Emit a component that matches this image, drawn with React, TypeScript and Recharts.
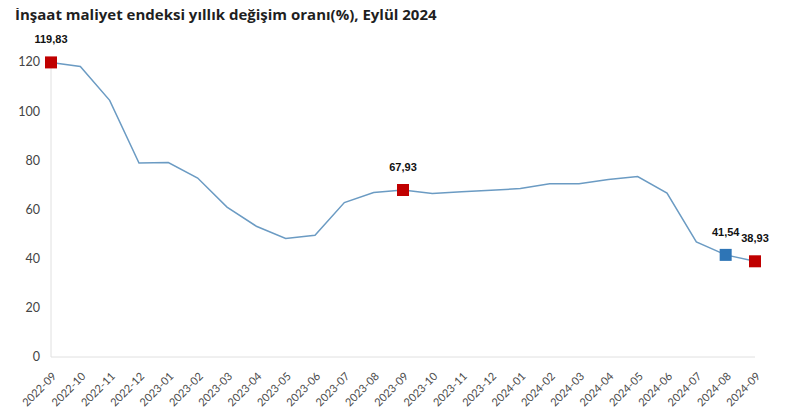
import { LineChart, Line, XAxis, YAxis } from "recharts";

const months = [
  "2022-09", "2022-10", "2022-11", "2022-12", "2023-01", "2023-02", "2023-03",
  "2023-04", "2023-05", "2023-06", "2023-07", "2023-08", "2023-09", "2023-10",
  "2023-11", "2023-12", "2024-01", "2024-02", "2024-03", "2024-04", "2024-05",
  "2024-06", "2024-07", "2024-08", "2024-09",
];

const rates = [
  119.83, 118.2, 104.4, 78.9, 79.1, 72.8, 61.0, 53.2, 48.2, 49.5, 62.8, 66.9,
  67.93, 66.5, 67.2, 67.8, 68.5, 70.5, 70.5, 72.2, 73.4, 66.7, 46.8, 41.54, 38.93,
];

// months that get a marker + value label
const markedMonths = ["2022-09", "2023-09", "2024-08", "2024-09"];
const markerColors = ["#c00000", "#c00000", "#2e75b6", "#c00000"];

const yTicks = [0, 20, 40, 60, 80, 100, 120];

const data = months.map((m, i) => ({ month: m, rate: rates[i] }));

const fmt = (v: number) => v.toFixed(2).replace(".", ",");

const Marker = (props: any) => {
  const { cx, cy, payload } = props;
  const idx = markedMonths.indexOf(payload.month);
  if (idx < 0) return <g key={payload.month} />;
  return (
    <g key={payload.month}>
      <rect x={cx - 6} y={cy - 6} width={12} height={12} fill={markerColors[idx]} />
      <text
        x={cx}
        y={cy - 19}
        textAnchor="middle"
        fontFamily="Liberation Sans, Arial, sans-serif"
        fontWeight="bold"
        fontSize={11}
        fill="#111"
      >
        {fmt(payload.rate)}
      </text>
    </g>
  );
};

const MonthTick = (props: any) => {
  const { x, y, payload } = props;
  return (
    <text
      x={x + 6}
      y={y + 12}
      textAnchor="end"
      transform={`rotate(-45 ${x + 6} ${y + 12})`}
      fontFamily="Lato, sans-serif"
      fontSize={11}
      fill="#4a4a4a"
    >
      {payload.value}
    </text>
  );
};

export default function App() {
  return (
    <div style={{ margin: -8, width: 790, height: 420, background: "#fff", position: "relative" }}>
      <div
        style={{
          position: "absolute",
          left: 15,
          top: 4,
          fontFamily: "Open Sans, sans-serif",
          fontWeight: "bold",
          fontSize: 15,
          color: "#1f1f1f",
          whiteSpace: "nowrap",
        }}
      >
        İnşaat maliyet endeksi yıllık değişim oranı(%), Eylül 2024
      </div>
      <LineChart
        width={790}
        height={420}
        data={data}
        margin={{ top: 62, right: 35, bottom: 0, left: 0 }}
      >
        <XAxis
          dataKey="month"
          interval={0}
          height={63}
          tickLine={false}
          axisLine={{ stroke: "#e0e0e0" }}
          tick={<MonthTick />}
        />
        <YAxis
          domain={[0, 120]}
          ticks={yTicks}
          width={51}
          tickLine={false}
          tickSize={0}
          tickMargin={11}
          axisLine={{ stroke: "#e0e0e0" }}
          tick={{ fontFamily: "Lato, sans-serif", fontSize: 12.5, fill: "#444" }}
        />
        <Line
          type="linear"
          dataKey="rate"
          stroke="#6b9bc3"
          strokeWidth={1.5}
          dot={<Marker />}
          activeDot={false}
          isAnimationActive={false}
        />
      </LineChart>
    </div>
  );
}
